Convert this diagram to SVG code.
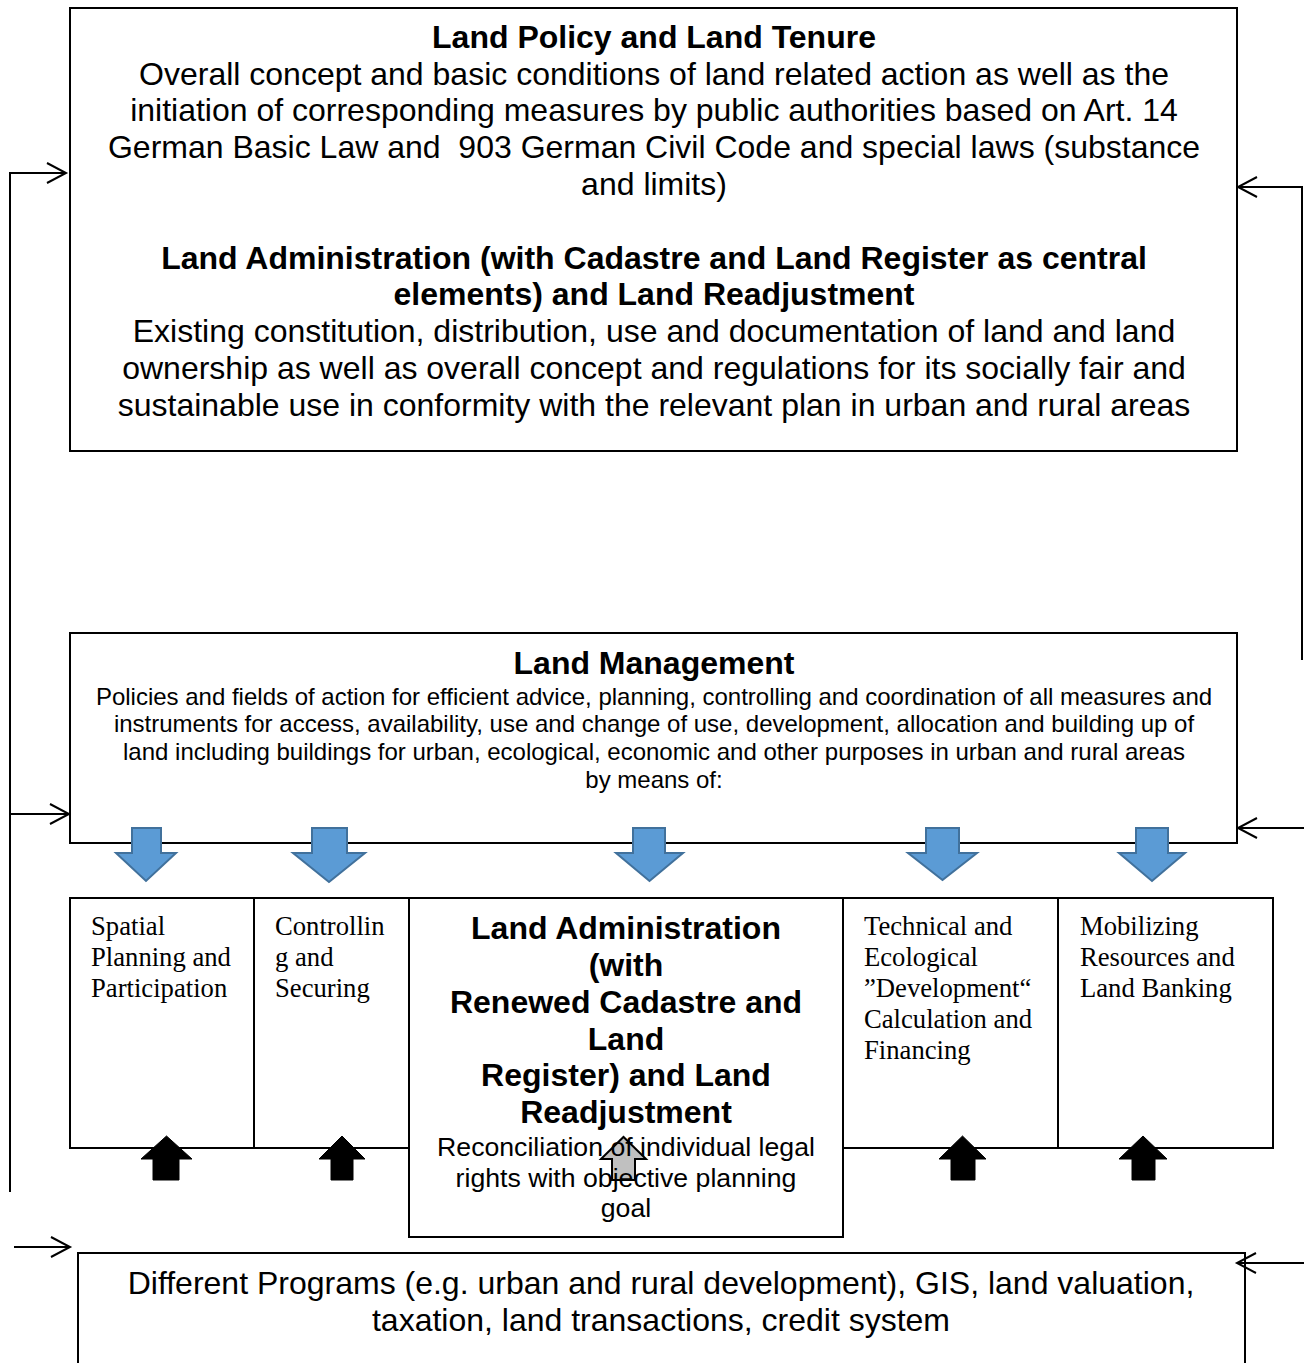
<svg xmlns="http://www.w3.org/2000/svg" width="1304" height="1363" viewBox="0 0 1304 1363">
<style>
.box{fill:#fff;stroke:#000;stroke-width:2}
.boxn{fill:none;stroke:#000;stroke-width:2}
.sb{font-family:"Liberation Sans",Arial,sans-serif;font-size:32px;font-weight:bold;text-anchor:middle;fill:#000}
.s32{font-family:"Liberation Sans",Arial,sans-serif;font-size:32px;text-anchor:middle;fill:#000}
.s24{font-family:"Liberation Sans",Arial,sans-serif;font-size:24px;text-anchor:middle;fill:#000}
.s27{font-family:"Liberation Sans",Arial,sans-serif;font-size:26.67px;text-anchor:middle;fill:#000}
.serif{font-family:"Liberation Serif","Times New Roman",serif;font-size:26.67px;fill:#000}
.conn{fill:none;stroke:#000;stroke-width:2}
.blue{fill:#5B9BD5;stroke:#41719C;stroke-width:2}
.black{fill:#000;stroke:#000;stroke-width:1}
.gray{fill:#C0C0C0;stroke:#000;stroke-width:2}
</style>
<defs>
<marker id="ah" markerWidth="24" markerHeight="24" refX="20" refY="11" orient="auto" markerUnits="userSpaceOnUse">
<polyline points="1,1 20,11 1,21" fill="none" stroke="#000" stroke-width="2"/>
</marker>
</defs>

<g id="node-top">
<rect class="box" x="70" y="8" width="1167" height="443"/>
<text class="sb" x="654" y="48">Land Policy and Land Tenure</text>
<text class="s32" x="654" y="85">Overall concept and basic conditions of land related action as well as the</text>
<text class="s32" x="654" y="121">initiation of corresponding measures by public authorities based on Art. 14</text>
<text class="s32" x="654" y="158" xml:space="preserve">German Basic Law and  903 German Civil Code and special laws (substance</text>
<text class="s32" x="654" y="195">and limits)</text>
<text class="sb" x="654" y="269">Land Administration (with Cadastre and Land Register as central</text>
<text class="sb" x="654" y="305">elements) and Land Readjustment</text>
<text class="s32" x="654" y="342">Existing constitution, distribution, use and documentation of land and land</text>
<text class="s32" x="654" y="379">ownership as well as overall concept and regulations for its socially fair and</text>
<text class="s32" x="654" y="416">sustainable use in conformity with the relevant plan in urban and rural areas</text>
</g>

<g id="node-land-management">
<rect class="box" x="70" y="633" width="1167" height="210"/>
<text class="sb" x="654" y="674">Land Management</text>
<text class="s24" x="654" y="704.5">Policies and fields of action for efficient advice, planning, controlling and coordination of all measures and</text>
<text class="s24" x="654" y="731.5">instruments for access, availability, use and change of use, development, allocation and building up of</text>
<text class="s24" x="654" y="759.5">land including buildings for urban, ecological, economic and other purposes in urban and rural areas</text>
<text class="s24" x="654" y="787.5">by means of:</text>
</g>

<g id="node-spatial">
<rect class="box" x="70" y="898" width="184" height="250"/>
<text class="serif" x="91" y="935">Spatial</text>
<text class="serif" x="91" y="966">Planning and</text>
<text class="serif" x="91" y="997">Participation</text>
</g>

<g id="node-controlling">
<rect class="box" x="254" y="898" width="155" height="250"/>
<text class="serif" x="275" y="935">Controllin</text>
<text class="serif" x="275" y="966">g and</text>
<text class="serif" x="275" y="997">Securing</text>
</g>

<g id="node-technical">
<rect class="box" x="843" y="898" width="215" height="250"/>
<text class="serif" x="864" y="935">Technical and</text>
<text class="serif" x="864" y="966">Ecological</text>
<text class="serif" x="864" y="997">”Development“</text>
<text class="serif" x="864" y="1028">Calculation and</text>
<text class="serif" x="864" y="1059">Financing</text>
</g>

<g id="node-mobilizing">
<rect class="box" x="1058" y="898" width="215" height="250"/>
<text class="serif" x="1080" y="935">Mobilizing</text>
<text class="serif" x="1080" y="966">Resources and</text>
<text class="serif" x="1080" y="997">Land Banking</text>
</g>

<g id="node-programs">
<rect class="box" x="78" y="1253" width="1167" height="130"/>
<text class="s32" x="661" y="1294">Different Programs (e.g. urban and rural development), GIS, land valuation,</text>
<text class="s32" x="661" y="1331">taxation, land transactions, credit system</text>
</g>

<g id="connectors">
<polyline class="conn" points="10,1192 10,173 66,173" marker-end="url(#ah)"/>
<line class="conn" x1="11" y1="814" x2="69" y2="814" marker-end="url(#ah)"/>
<line class="conn" x1="14" y1="1247" x2="70" y2="1247" marker-end="url(#ah)"/>
<polyline class="conn" points="1302,660 1302,187 1238,187" marker-end="url(#ah)"/>
<line class="conn" x1="1304" y1="828" x2="1238" y2="828" marker-end="url(#ah)"/>
<line class="conn" x1="1304" y1="1263" x2="1237" y2="1263" marker-end="url(#ah)"/>

<path class="blue" d="M132,828 H161 V853 H176 L146,881 L116,853 H132 Z"/>
<path class="blue" d="M312,828 H347 V853 H365 L329,882 L293,853 H312 Z"/>
<path class="blue" d="M633,828 H665 V853 H683 L649.5,881 L616,853 H633 Z"/>
<path class="blue" d="M926,828 H959 V853 H977 L942.5,880 L908,853 H926 Z"/>
<path class="blue" d="M1136,828 H1168 V853 H1185 L1152,881 L1119,853 H1136 Z"/>

<path class="black" d="M153,1180 V1159 H141 L166.5,1136 L192,1159 H179 V1180 Z"/>
<path class="black" d="M331,1180 V1159 H319 L342,1136 L365,1159 H353 V1180 Z"/>
<path class="black" d="M951,1180 V1159 H939 L962.5,1136 L986,1159 H975 V1180 Z"/>
<path class="black" d="M1132,1180 V1159 H1119 L1143,1136 L1167,1159 H1155 V1180 Z"/>
<path class="gray" d="M612,1180 V1159 H601 L623.5,1137 L646,1159 H635 V1180 Z"/>
</g>

<g id="node-land-admin">
<rect class="boxn" x="409" y="898" width="434" height="339"/>
<text class="sb" x="626" y="939">Land Administration</text>
<text class="sb" x="626" y="976">(with</text>
<text class="sb" x="626" y="1013">Renewed Cadastre and</text>
<text class="sb" x="626" y="1050">Land</text>
<text class="sb" x="626" y="1086">Register) and Land</text>
<text class="sb" x="626" y="1123">Readjustment</text>
<text class="s27" x="626" y="1155.5">Reconciliation of individual legal</text>
<text class="s27" x="626" y="1186.5">rights with objective planning</text>
<text class="s27" x="626" y="1216.5">goal</text>
</g>
</svg>
